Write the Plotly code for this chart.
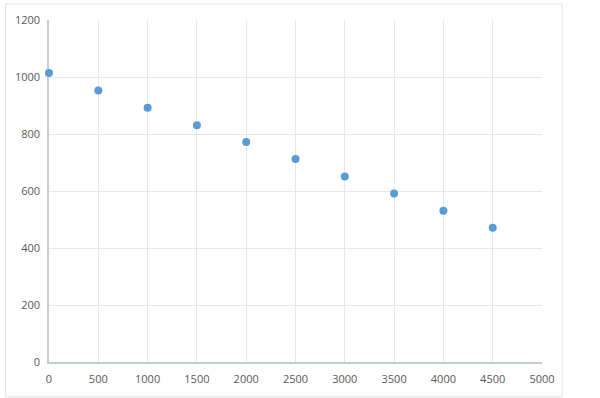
import plotly.graph_objects as go

x_values = [0, 500, 1000, 1500, 2000, 2500, 3000, 3500, 4000, 4500]
y_values = [1014, 953, 892, 831, 772, 712, 651, 591, 531, 471]
x_ticks = [0, 500, 1000, 1500, 2000, 2500, 3000, 3500, 4000, 4500, 5000]
y_ticks = [0, 200, 400, 600, 800, 1000, 1200]

fig = go.Figure()
fig.add_trace(go.Scatter(
    x=x_values, y=y_values, mode="markers",
    marker=dict(size=8, color="#5b9bd5"),
    cliponaxis=False,
))

L, R, T, B = 49, 542, 18, 362
W, H = 600, 398
pw, ph = R - L, B - T

def px(v):
    return (v - L) / pw

def py(v):
    return (B - v) / ph

fig.update_layout(
    width=W, height=H,
    margin=dict(l=L, r=W - R, t=T, b=H - B),
    paper_bgcolor="white", plot_bgcolor="white",
    showlegend=False,
    font=dict(family="Open Sans, Liberation Sans, sans-serif", size=11, color="#595959"),
    xaxis=dict(range=[0, 5000], tickvals=x_ticks, showgrid=True, gridcolor="#e3e7ee",
               gridwidth=1, zeroline=False, showline=True, linecolor="#c5ccd8",
               linewidth=1.5, ticks="", ticklen=0, tickfont=dict(size=11),
               ticklabelstandoff=6, layer="below traces"),
    yaxis=dict(range=[0, 1200], tickvals=y_ticks, showgrid=True, gridcolor="#e3e7ee",
               gridwidth=1, zeroline=False, showline=True, linecolor="#c5ccd8",
               linewidth=1.5, ticks="", ticklen=0, tickfont=dict(size=11),
               ticklabelstandoff=5, layer="below traces"),
    shapes=[dict(type="rect", xref="paper", yref="paper",
                 x0=px(5.5), x1=px(562), y0=py(397), y1=py(2),
                 line=dict(color="#dde3ea", width=1), layer="below")],
)

fig.write_html("out.html")
